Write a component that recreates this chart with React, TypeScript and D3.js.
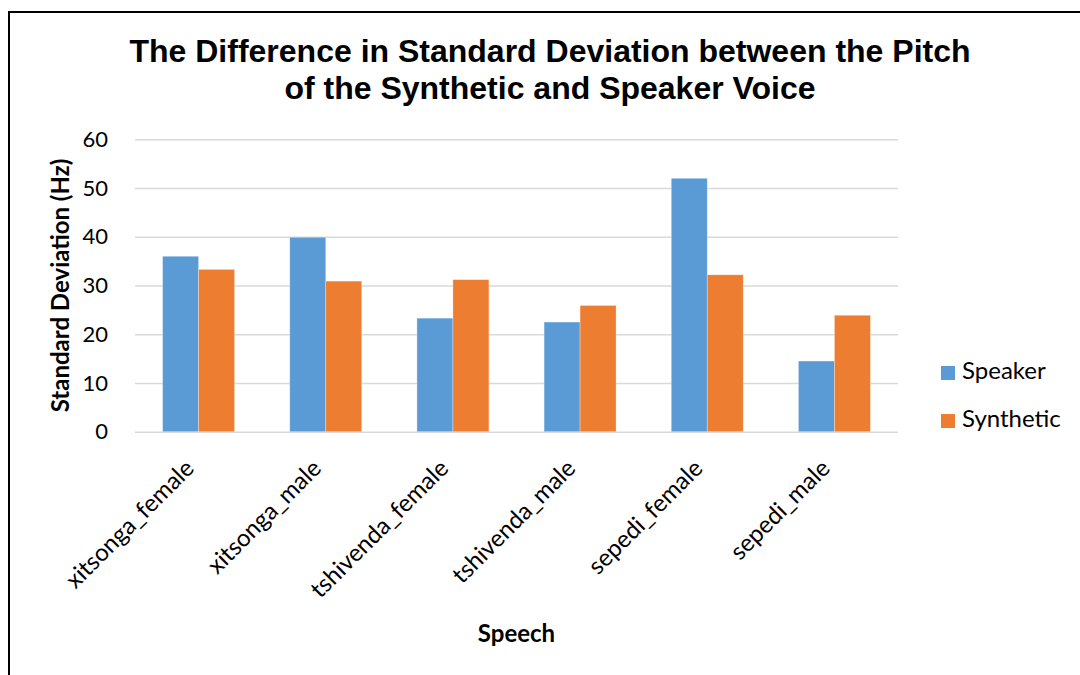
import React, { useEffect, useRef } from "react";
import * as d3 from "d3";

// chart data
const categories = [
  "xitsonga_female",
  "xitsonga_male",
  "tshivenda_female",
  "tshivenda_male",
  "sepedi_female",
  "sepedi_male",
];
const seriesNames = ["Speaker", "Synthetic"];
const speakerValues = [36.0, 39.9, 23.3, 22.5, 52.0, 14.5];
const syntheticValues = [33.3, 30.9, 31.2, 25.9, 32.2, 23.9];
const yTicks = [0, 10, 20, 30, 40, 50, 60];
const titleLines = [
  "The Difference in Standard Deviation between the Pitch",
  "of the Synthetic and Speaker Voice",
];

const width = 1080;
const height = 675;
const margin = { top: 139.3, right: 182, bottom: 243.3, left: 135 };
const colors = ["#5B9BD5", "#ED7D31"];
const bodyFont = "Lato, 'Open Sans', sans-serif";

const App = () => {
  const svgRef = useRef<SVGSVGElement>(null);

  useEffect(() => {
    const svg = d3.select(svgRef.current);
    svg.selectAll("*").remove();

    const x0 = d3
      .scaleBand()
      .domain(categories)
      .range([margin.left, width - margin.right])
      .paddingInner(0.434)
      .paddingOuter(0.217);

    const x1 = d3
      .scaleBand()
      .domain(seriesNames)
      .range([0, x0.bandwidth()]);

    const y = d3
      .scaleLinear()
      .domain([0, 60])
      .range([height - margin.bottom, margin.top]);

    // outer frame (right and bottom edges fall outside the picture)
    svg
      .append("rect")
      .attr("x", 9)
      .attr("y", 12)
      .attr("width", 1100)
      .attr("height", 700)
      .attr("fill", "white")
      .attr("stroke", "black")
      .attr("stroke-width", 2);

    // title
    svg
      .append("g")
      .selectAll("text")
      .data(titleLines)
      .join("text")
      .attr("x", 550)
      .attr("y", (d, i) => 62 + i * 37)
      .attr("text-anchor", "middle")
      .attr("font-family", "'Liberation Sans', Arial, sans-serif")
      .attr("font-weight", "bold")
      .attr("font-size", 32)
      .attr("fill", "black")
      .text((d) => d);

    // gridlines
    const yAxis = d3
      .axisLeft(y)
      .tickValues(yTicks)
      .tickSize(-(width - margin.left - margin.right))
      .tickPadding(27);

    const gy = svg
      .append("g")
      .attr("transform", `translate(${margin.left},0)`)
      .call(yAxis);
    gy.select(".domain").remove();
    gy.selectAll(".tick line")
      .attr("stroke", "#D9D9D9")
      .attr("stroke-width", 1.5);
    gy.selectAll(".tick text")
      .attr("font-family", bodyFont)
      .attr("font-size", 22)
      .attr("fill", "#000");

    // bars
    const rows = categories.map((c, i) => ({
      category: c,
      values: [speakerValues[i], syntheticValues[i]],
    }));

    svg
      .append("g")
      .selectAll("g")
      .data(rows)
      .join("g")
      .attr("transform", (d) => `translate(${x0(d.category)},0)`)
      .selectAll("rect")
      .data((d) => d.values.map((v, j) => ({ key: seriesNames[j], value: v, j })))
      .join("rect")
      .attr("x", (d) => x1(d.key)!)
      .attr("y", (d) => y(d.value))
      .attr("width", x1.bandwidth())
      .attr("height", (d) => y(0) - y(d.value))
      .attr("fill", (d) => colors[d.j])
      .attr("stroke", "white")
      .attr("stroke-opacity", 0.4)
      .attr("stroke-width", 0.75);

    // category labels, rotated
    svg
      .append("g")
      .selectAll("text")
      .data(categories)
      .join("text")
      .attr("font-family", bodyFont)
      .attr("font-size", 24)
      .attr("fill", "#000")
      .attr("text-anchor", "end")
      .attr(
        "transform",
        (d) => `translate(${x0(d)! + x0.bandwidth() / 2 - 3},${y(0) + 38}) rotate(-45)`
      )
      .text((d) => d);

    // axis titles
    svg
      .append("text")
      .attr("transform", `translate(69,${(y(0) + y(60)) / 2}) rotate(-90)`)
      .attr("text-anchor", "middle")
      .attr("font-family", bodyFont)
      .attr("font-weight", "bold")
      .attr("font-size", 24)
      .text("Standard Deviation (Hz)");

    svg
      .append("text")
      .attr("x", (margin.left + width - margin.right) / 2)
      .attr("y", 642)
      .attr("text-anchor", "middle")
      .attr("font-family", bodyFont)
      .attr("font-weight", "bold")
      .attr("font-size", 24)
      .text("Speech");

    // legend
    const legend = svg
      .append("g")
      .selectAll("g")
      .data(seriesNames)
      .join("g")
      .attr("transform", (d, i) => `translate(941,${366 + i * 48})`);
    legend
      .append("rect")
      .attr("width", 14)
      .attr("height", 14)
      .attr("fill", (d, i) => colors[i]);
    legend
      .append("text")
      .attr("x", 21)
      .attr("y", 13)
      .attr("font-family", bodyFont)
      .attr("font-size", 24)
      .attr("fill", "#000")
      .text((d) => d);
  }, []);

  return (
    <svg
      ref={svgRef}
      width={width}
      height={height}
      style={{ position: "absolute", left: 0, top: 0, background: "white" }}
    />
  );
};

export default App;
